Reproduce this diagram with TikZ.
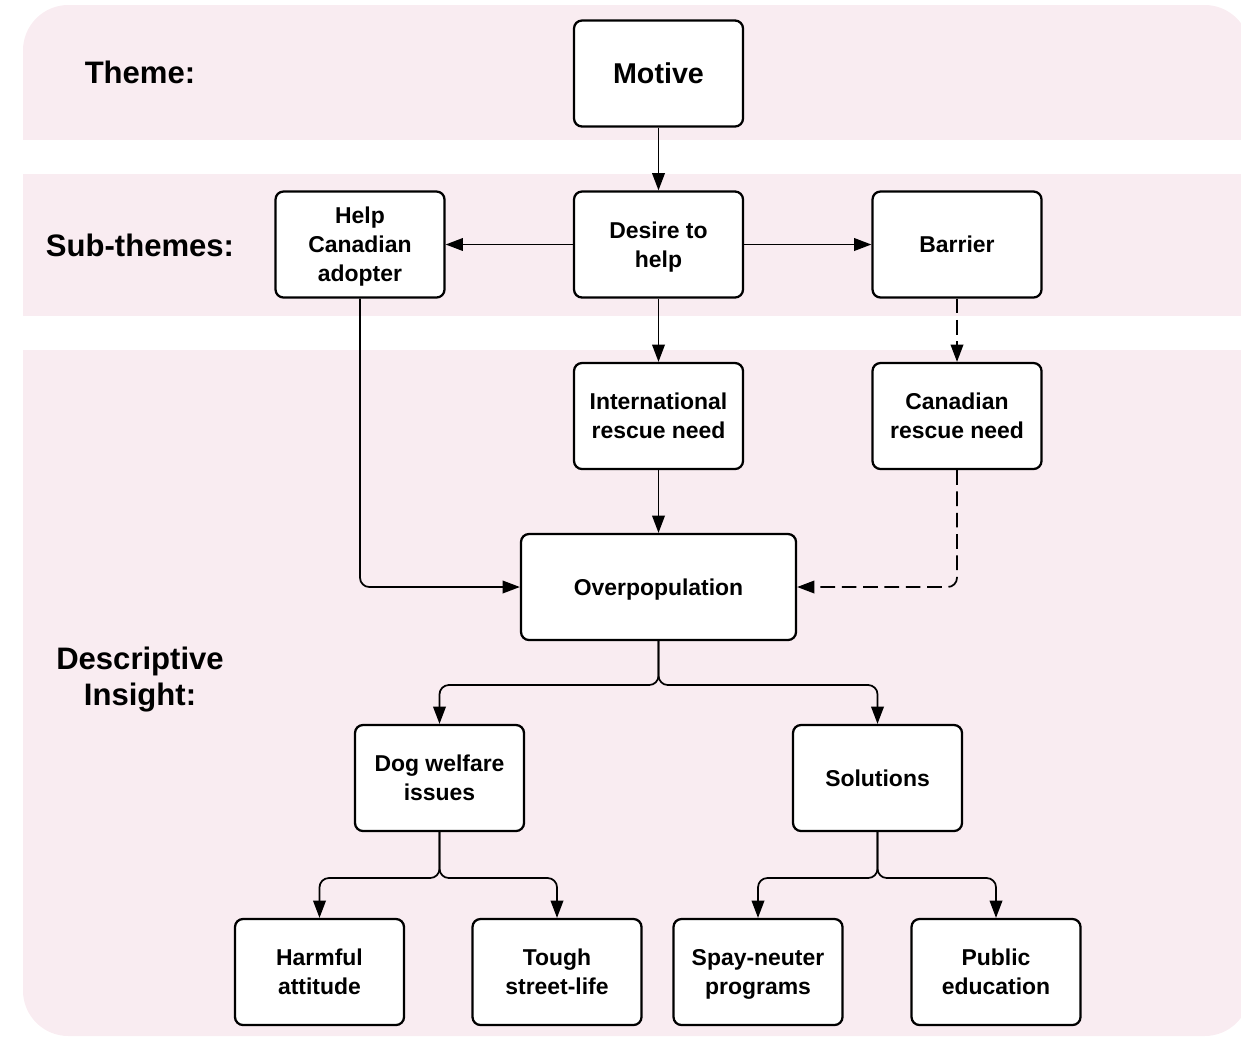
\documentclass[tikz,border=0pt]{standalone}
\usepackage{fontspec}
\setmainfont{Liberation Sans}
\usetikzlibrary{arrows.meta}
\definecolor{bandpink}{RGB}{249,236,241}
\begin{document}
\begin{tikzpicture}[x=0.75pt,y=-0.75pt,
  box/.style={draw, line width=1.7pt, rounded corners=6pt, fill=white,
    minimum width=126.75pt, minimum height=79.5pt, align=center, inner sep=2pt,
    text depth=0pt,
    font=\fontsize{17.2}{21.75}\selectfont\bfseries},
  widebox/.style={box, minimum width=206.25pt},
  rowlabel/.style={align=center, font=\fontsize{23.3}{27}\selectfont\bfseries},
  conn/.style={line width=1.3pt, rounded corners=7pt, -{Triangle[length=13pt,width=9.5pt]}},
  dconn/.style={conn, dash pattern=on 11pt off 5pt}]
\useasboundingbox (0,0) rectangle (1241,1036);
\fill[bandpink, rounded corners=34pt] (23,5) rectangle (1250,1036);
\fill[white] (0,140) rectangle (1241,174);
\fill[white] (0,316) rectangle (1241,350);

\node[rowlabel] (lbltheme) at (140,72) {Theme:};
\node[rowlabel] (lblsub) at (140,245) {Sub-themes:};
\node[rowlabel] (lbldesc) at (140,680) {Descriptive\\Insight:};

\node[box, font=\fontsize{21.5}{25}\selectfont\bfseries] (motive) at (658.5,73.5) {Motive};
\node[box] (desire) at (658.5,244.5) {Desire to\\help};
\node[box] (help) at (360,244.5) {Help\\Canadian\\adopter};
\node[box] (barrier) at (957,244.5) {Barrier};
\node[box] (intl) at (658.5,416) {International\\rescue need};
\node[box] (canres) at (957,416) {Canadian\\rescue need};
\node[widebox] (overpop) at (658.5,587) {Overpopulation};
\node[box] (dog) at (439.5,778) {Dog welfare\\issues};
\node[box] (sol) at (877.5,778) {Solutions};
\node[box] (harm) at (319.5,972) {Harmful\\attitude};
\node[box] (tough) at (557,972) {Tough\\street-life};
\node[box] (spay) at (758,972) {Spay-neuter\\programs};
\node[box] (public) at (996,972) {Public\\education};

\coordinate (j1) at (658.5,685);
\coordinate (j2) at (439.5,878);
\coordinate (j3) at (877.5,878);

\draw[conn] (motive) -- (desire);
\draw[conn] (desire) -- (help);
\draw[conn] (desire) -- (barrier);
\draw[conn] (desire) -- (intl);
\draw[dconn] (barrier) -- (canres);
\draw[conn] (intl) -- (overpop);
\draw[conn] (help.south) |- (overpop.west);
\draw[dconn] (canres.south) |- (overpop.east);
\draw[conn] (overpop.south) -- (j1) -| (dog.north);
\draw[conn] (overpop.south) -- (j1) -| (sol.north);
\draw[conn] (dog.south) -- (j2) -| (harm.north);
\draw[conn] (dog.south) -- (j2) -| (tough.north);
\draw[conn] (sol.south) -- (j3) -| (spay.north);
\draw[conn] (sol.south) -- (j3) -| (public.north);
\end{tikzpicture}
\end{document}
